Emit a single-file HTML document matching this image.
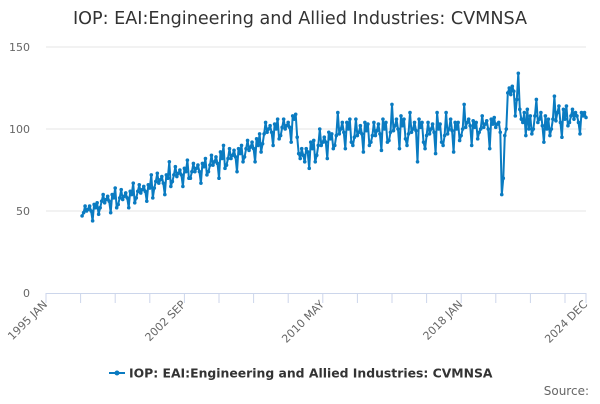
<!DOCTYPE html>
<html><head><meta charset="utf-8"><style>
body{margin:0;background:#fff;font-family:"DejaVu Sans","Liberation Sans",sans-serif}
</style></head><body>
<svg id="chart" width="600" height="400" xmlns="http://www.w3.org/2000/svg" font-family="DejaVu Sans, Liberation Sans, sans-serif">
<rect width="600" height="400" fill="#fff"/>
<text x="300" y="24" text-anchor="middle" font-size="17.6" fill="#333">IOP: EAI:Engineering and Allied Industries: CVMNSA</text>
<g id="grid"></g>
<g id="yaxis"></g>
<g id="xaxis"></g>
<g id="series"></g>
<g>
<line x1="109" y1="373" x2="125" y2="373" stroke="#0a7bc1" stroke-width="2"/>
<circle cx="117" cy="373" r="2.5" fill="#0a7bc1"/>
<text x="129" y="377.5" font-size="12.4" font-weight="bold" fill="#333">IOP: EAI:Engineering and Allied Industries: CVMNSA</text>
</g>
<text x="589" y="395" text-anchor="end" font-size="12" fill="#666">Source:</text>
</svg>
<script>
const startYear = 1997;
const values = [
47,49,53,50,51,53,50,44,54,52,55,48,
52,56,60,55,57,59,56,49,60,58,64,52,
54,58,63,57,59,61,58,52,62,60,67,55,
58,62,66,61,63,65,62,56,66,64,72,58,
64,68,73,67,69,71,67,60,72,70,80,65,
68,72,77,71,73,75,72,65,76,74,81,70,
70,74,79,74,76,78,74,67,79,77,82,72,
74,78,84,78,80,83,79,70,86,82,90,76,
78,82,88,82,84,87,83,74,88,85,90,80,
83,88,93,87,89,92,88,80,94,90,97,86,
91,97,104,98,100,102,98,90,103,100,106,94,
96,101,106,100,102,104,101,92,108,106,109,95,
85,82,88,84,80,88,86,76,92,88,93,80,
84,90,100,90,92,95,92,82,98,94,97,88,
90,96,110,97,100,104,98,88,104,100,106,92,
90,95,106,96,98,102,97,86,104,99,103,90,
92,96,104,96,99,103,97,87,106,100,104,92,
93,98,115,99,102,106,100,88,108,102,106,94,
90,97,110,98,100,104,99,80,106,101,104,92,
88,96,104,97,100,103,98,85,110,100,103,92,
90,96,110,97,100,106,99,86,104,100,104,93,
96,100,115,101,104,106,102,90,105,101,104,94,
98,100,108,101,103,105,100,88,106,103,107,101,
103,104,98,60,70,96,100,122,125,121,126,123,
108,118,134,112,106,104,110,96,112,100,108,97,
100,108,118,104,106,110,102,92,108,100,106,96,
100,106,120,105,110,114,104,95,112,106,114,102,
104,108,112,106,110,108,104,97,110,108,110,107];
const yTicks = [0,50,100,150];
const xLabels = ["1995 JAN","2002 SEP","2010 MAY","2018 JAN","2024 DEC"];
const xLabelMonths = [0,92,184,276,359];

const NS="http://www.w3.org/2000/svg";
const x0=46,x1=586,yTop=47,yBot=293;
const xScale=m=>x0+(m/359)*(x1-x0);
const yScale=v=>yBot-(v/150)*(yBot-yTop);
function mk(t,a,p){const e=document.createElementNS(NS,t);for(const k in a)e.setAttribute(k,a[k]);p.appendChild(e);return e;}
const grid=document.getElementById('grid'),ya=document.getElementById('yaxis'),xa=document.getElementById('xaxis'),ser=document.getElementById('series');
yTicks.forEach(v=>{
  if(v>0){const l=mk('line',{x1:x0,x2:x1,y1:yScale(v),y2:yScale(v),stroke:'#e6e6e6'},grid);
  
  }
  const t=mk('text',{x:30,y:yScale(v)+4,'text-anchor':'end','font-size':11,fill:'#666'},ya);
  
  
  t.textContent=v;
});
mk('line',{x1:x0,x2:x1,y1:yBot+0.5,y2:yBot+0.5,stroke:'#ccd6eb'},xa);
for(let i=0;i<=15;i++){const xx=x0+i*34.6;if(xx>x1+1)break;mk('line',{x1:xx,x2:xx,y1:yBot,y2:yBot+10,stroke:'#ccd6eb'},xa);}
mk('line',{x1:x1,x2:x1,y1:yBot,y2:yBot+10,stroke:'#ccd6eb'},xa);
xLabels.forEach((s,i)=>{
  const x=xScale(xLabelMonths[i]);
  const t=mk('text',{x:x+2,y:yBot+12,'text-anchor':'end','font-size':11,fill:'#666',transform:`rotate(-45 ${x+2} ${yBot+12})`},xa);
  
  
  t.textContent=s;
});
const off=(startYear-1995)*12;
const pts=values.map((v,i)=>[xScale(off+i),yScale(v)]);
const path=mk('path',{d:'M'+pts.map(p=>p[0].toFixed(1)+','+p[1].toFixed(1)).join('L'),fill:'none',stroke:'#0a7bc1','stroke-width':2,'stroke-linejoin':'round'},ser);


pts.forEach(p=>{const c=mk('circle',{cx:p[0],cy:p[1],r:1.8,fill:'#0a7bc1'},ser);
  
  });
</script>
</body></html>
